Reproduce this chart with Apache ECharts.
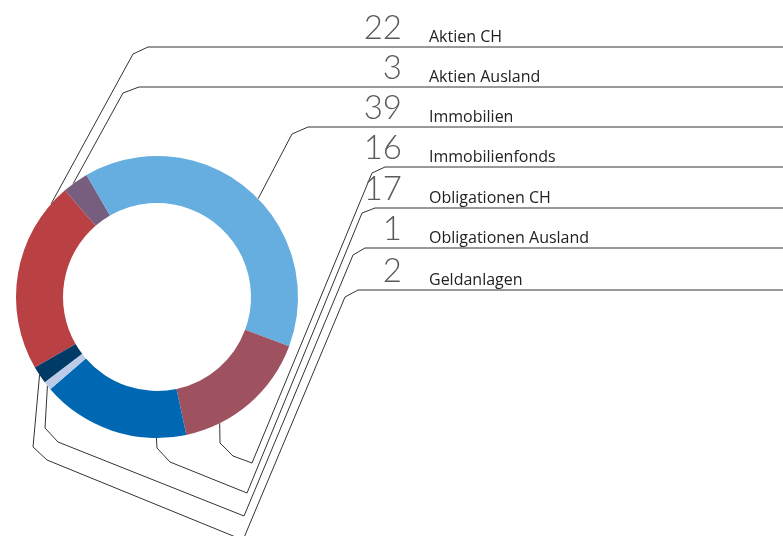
<!DOCTYPE html>
<html>
<head>
<meta charset="utf-8">
<script src="https://cdn.jsdelivr.net/npm/echarts@6/dist/echarts.min.js"></script>
<style>
html, body { margin: 0; padding: 0; background: #fff; }
#chart { width: 783px; height: 536px; }
</style>
</head>
<body>
<div id="chart"></div>
<script>
// Anteile in Prozent
var categories = ['Aktien CH', 'Aktien Ausland', 'Immobilien', 'Immobilienfonds', 'Obligationen CH', 'Obligationen Ausland', 'Geldanlagen'];
var shares = [22, 3, 39, 16, 17, 1, 2];
var colors = ['#b94043', '#785e7e', '#66aee0', '#9e525f', '#0067b2', '#bccce8', '#003a66'];

// layout of the donut and the leader lines
var CX = 157, CY = 297, R_IN = 94, R_OUT = 141, START = 210;
var rowY = [47, 87, 127, 167, 208, 248, 290];
var anchorPos = [0.9, 0.4, 0.54, 0.75, 0.2, 0.5, 0.5];   // where in the slice the line starts
var bends = [
	[[133, 54], [148, 47]],
	[[123, 93], [139, 87]],
	[[292, 134], [308, 127]],
	[[220, 443], [233, 456], [252, 463], [372, 173], [385, 167]],
	[[157, 448], [170, 462], [247, 493], [362, 213], [375, 208]],
	[[45, 428], [58, 442], [244, 516], [353, 255], [365, 248]],
	[[33, 447], [47, 460], [243, 540], [345, 297], [358, 290]]
];

var total = shares.reduce(function (a, b) { return a + b; }, 0);

var chart = echarts.init(document.getElementById('chart'));

var data = categories.map(function (name, i) {
	return { name: name, value: shares[i], itemStyle: { color: colors[i] } };
});

chart.setOption({
	animation: false,
	series: [{
		type: 'pie',
		center: [CX, CY],
		radius: [R_IN, R_OUT],
		startAngle: START,
		clockwise: true,
		avoidLabelOverlap: false,
		silent: true,
		label: {
			position: 'outside',
			formatter: function (p) {
				return '{v|' + p.value + '}{n|' + p.name + '}';
			},
			rich: {
				v: {
					fontFamily: 'Lato',
					fontWeight: 300,
					fontSize: 33,
					color: '#5a5a5a',
					width: 62,
					align: 'right',
					lineHeight: 24,
					verticalAlign: 'bottom'
				},
				n: {
					fontFamily: 'Open Sans',
					fontSize: 16,
					color: '#222',
					align: 'right',
					padding: [0, 0, 0, 27],
					lineHeight: 20,
					verticalAlign: 'bottom'
				}
			}
		},
		labelLine: {
			show: true,
			smooth: false,
			lineStyle: { color: '#333', width: 1 }
		},
		labelLayout: function (p) {
			var i = p.dataIndex;
			var before = 0;
			for (var j = 0; j < i; j++) before += shares[j];
			var deg = START - (before + shares[i] * anchorPos[i]) / total * 360;
			var rad = deg * Math.PI / 180;
			var start = [CX + R_OUT * Math.cos(rad), CY - R_OUT * Math.sin(rad)];
			var pts = [start].concat(bends[i]).concat([[783, rowY[i]]]);
			return {
				x: 340,
				y: rowY[i] - 2,
				align: 'left',
				verticalAlign: 'bottom',
				labelLinePoints: pts
			};
		},
		data: data
	}]
});
</script>
</body>
</html>
